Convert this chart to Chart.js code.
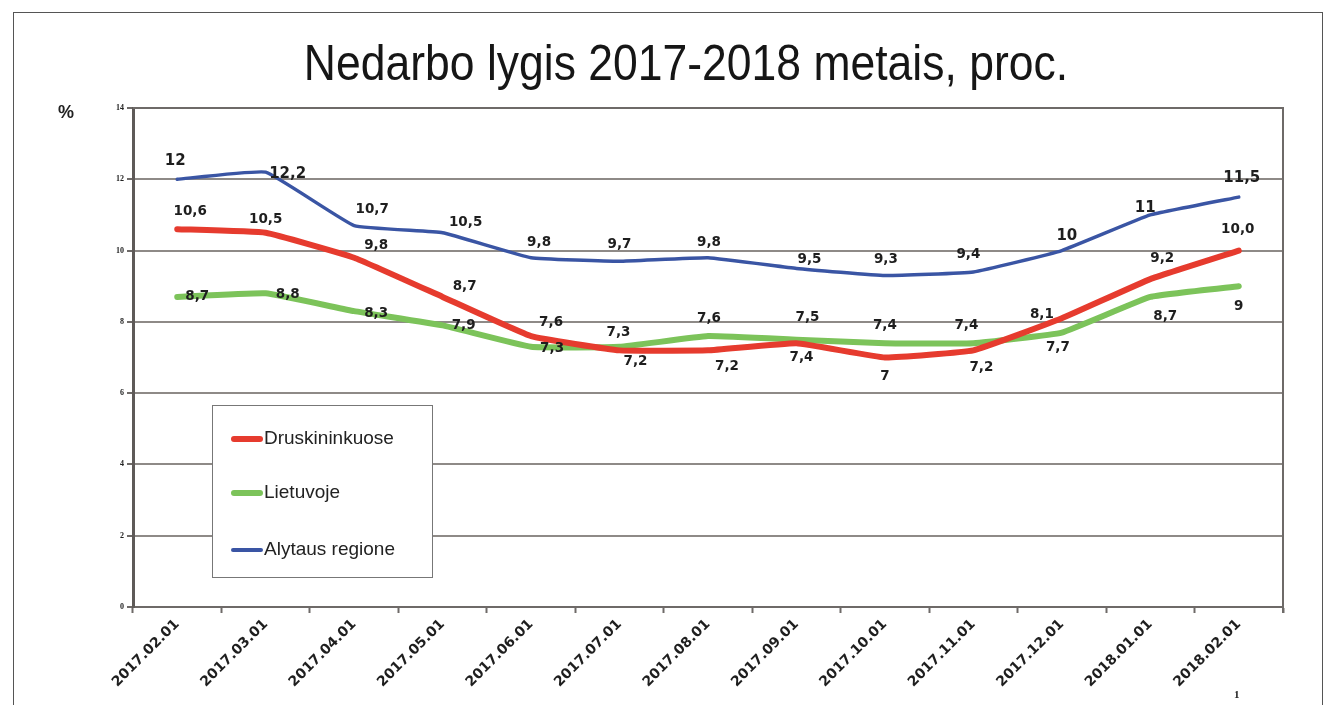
<!DOCTYPE html>
<html>
<head>
<meta charset="utf-8">
<script src="https://cdn.jsdelivr.net/npm/chart.js@4/dist/chart.umd.min.js"></script>
<style>
  body{margin:0;background:#fff;overflow:hidden;}
  #wrap{position:relative;width:1336px;height:705px;}
  #frame{position:absolute;left:13px;top:12px;width:1308px;height:720px;border:1px solid #555;}
  #title{position:absolute;left:0;top:38px;width:1372px;text-align:center;font:50px/50px "Liberation Sans",Arial,sans-serif;color:#161616;transform:scaleX(0.89);transform-origin:686px 0;white-space:nowrap;}
  #pct{position:absolute;left:58px;top:102px;font:bold 18px "Liberation Sans",Arial,sans-serif;color:#222;}
  #pg{position:absolute;left:1234px;top:688px;font:bold 11px "Liberation Serif",serif;color:#222;}
  #legend{position:absolute;left:212px;top:405px;width:219px;height:171px;border:1px solid #777;background:#fff;}
  .item{position:absolute;left:18px;height:24px;font:19px "Liberation Sans",Arial,sans-serif;color:#222;line-height:24px;}
  .item span{display:inline-block;width:32px;vertical-align:middle;margin-right:1px;border-radius:3px;}
</style>
</head>
<body>
<div id="wrap">
  <div id="frame"></div>
  <canvas id="myChart" width="1336" height="705"></canvas>
  <div id="title">Nedarbo lygis 2017-2018 metais, proc.</div>
  <div id="pct">%</div>
  <div id="legend"></div>
  <div id="pg">1</div>
</div>
<script>
//// DUOMENYS
var datos = ["2017.02.01","2017.03.01","2017.04.01","2017.05.01","2017.06.01","2017.07.01","2017.08.01",
             "2017.09.01","2017.10.01","2017.11.01","2017.12.01","2018.01.01","2018.02.01"];
var druskininkuose = [10.6,10.5,9.8,8.7,7.6,7.2,7.2,7.4,7,7.2,8.1,9.2,10.0];
var lietuvoje      = [8.7,8.8,8.3,7.9,7.3,7.3,7.6,7.5,7.4,7.4,7.7,8.7,9];
var alytaus        = [12,12.2,10.7,10.5,9.8,9.7,9.8,9.5,9.3,9.4,10,11,11.5];
var y_ticks = [0,2,4,6,8,10,12,14];

// uzrasu poslinkiai nuo tasko (dx,dy)
var poslinkiai = [
  [[13,-18],[0,-13],[22,-12],[22,-10],[20,-14],[16,11],[19,16],[5,14],[0,19],[8,17],[-20,-4],[12,-21],[-1,-21]],
  [[20,0],[22,1],[22,2],[21,0],[21,2],[-1,-14],[1,-18],[11,-22],[0,-18],[-7,-18],[-4,15],[15,20],[0,20]],
  [[-2,-18],[22,2],[18,-16],[23,-10],[8,-15],[0,-17],[1,-15],[13,-9],[1,-16],[-5,-17],[5,-14],[-5,-7],[3,-19]]
];

function kablelis(v, i, arr){
  // 10,0 rodomas su kableliu kaip originale
  var s = String(v);
  if (arr === druskininkuose && i === arr.length-1) s = v.toFixed(1);
  return s.replace('.', ',');
}

var uzrasai = {
  id: 'uzrasai',
  afterDatasetsDraw: function(chart){
    var ctx = chart.ctx;
    ctx.save();
    ctx.fillStyle = '#1e1e1e';
    ctx.textAlign = 'center';
    ctx.textBaseline = 'middle';
    chart.data.datasets.forEach(function(ds, d){
      var meta = chart.getDatasetMeta(d);
      meta.data.forEach(function(pt, i){
        var big = (d === 2 && (i === 0 || i === 1 || i === 10 || i === 11 || i === 12));
        ctx.font = (big ? 'bold 15px' : 'bold 13.5px') + ' "DejaVu Sans", Verdana, sans-serif';
        var o = poslinkiai[d][i];
        ctx.fillText(kablelis(ds.data[i], i, ds.data), pt.x + o[0], pt.y + o[1]);
      });
    });
    ctx.restore();
  }
};

var remas = {
  id: 'remas',
  beforeDatasetsDraw: function(chart){
    var a = chart.chartArea, ctx = chart.ctx;
    ctx.save();
    ctx.strokeStyle = '#6e6a68';
    ctx.lineWidth = 2;
    ctx.beginPath();
    ctx.moveTo(a.left, a.top);
    ctx.lineTo(a.right, a.top);
    ctx.lineTo(a.right, a.bottom + 6);
    ctx.stroke();
    ctx.restore();
  }
};

var ctx_nedarbo = document.getElementById('myChart').getContext('2d');
var myChart = new Chart(ctx_nedarbo, {
  type: 'line',
  data: {
    labels: datos,
    datasets: [
      { label: 'Druskininkuose', data: druskininkuose, borderColor: '#e63b2e', borderWidth: 6, pointRadius: 0, tension: 0.1, borderCapStyle: 'round', borderJoinStyle: 'round' },
      { label: 'Lietuvoje', data: lietuvoje, borderColor: '#7cc35a', borderWidth: 6, pointRadius: 0, tension: 0.1, borderCapStyle: 'round', borderJoinStyle: 'round' },
      { label: 'Alytaus regione', data: alytaus, borderColor: '#3a55a4', borderWidth: 3.5, pointRadius: 0, tension: 0.1, borderCapStyle: 'round', borderJoinStyle: 'round' }
    ]
  },
  options: {
    responsive: false,
    animation: false,
    layout: { padding: { left: 0, right: 53, top: 108, bottom: 0 } },
    plugins: {
      legend: { display: false },
      tooltip: { enabled: false },
      title: { display: false }
    },
    scales: {
      x: {
        offset: true,
        grid: { offset: true, drawOnChartArea: false, tickLength: 6, tickColor: '#6e6a68', tickWidth: 2 },
        border: { color: '#6e6a68', width: 2 },
        ticks: {
          color: '#1e1e1e', minRotation: 45, maxRotation: 45, padding: 3,
          font: { family: '"DejaVu Sans", Verdana, sans-serif', size: 14, weight: 'bold' }
        },
        afterFit: function(s){ s.height = 98; }
      },
      y: {
        min: 0, max: 14,
        afterBuildTicks: function(s){ s.ticks = y_ticks.map(function(v){ return { value: v }; }); },
        grid: { color: '#8e8a87', lineWidth: 2, tickLength: 6, tickColor: '#6e6a68' },
        border: { color: '#5e5a58', width: 3 },
        ticks: {
          color: '#222', padding: 3,
          font: { family: '"Liberation Serif", serif', size: 8, weight: 'bold' }
        },
        afterFit: function(s){ s.width = 133; }
      }
    }
  },
  plugins: [remas, uzrasai]
});

// legenda is duomenu rinkiniu
var leg = document.getElementById('legend');
var eil = [20, 74, 131];
myChart.data.datasets.forEach(function(ds, i){
  var d = document.createElement('div');
  d.className = 'item';
  d.style.top = eil[i] + 'px';
  d.innerHTML = '<span style="height:' + (i === 2 ? 4 : 6) + 'px;background:' + ds.borderColor + '"></span>' + ds.label;
  leg.appendChild(d);
});
</script>
</body>
</html>
